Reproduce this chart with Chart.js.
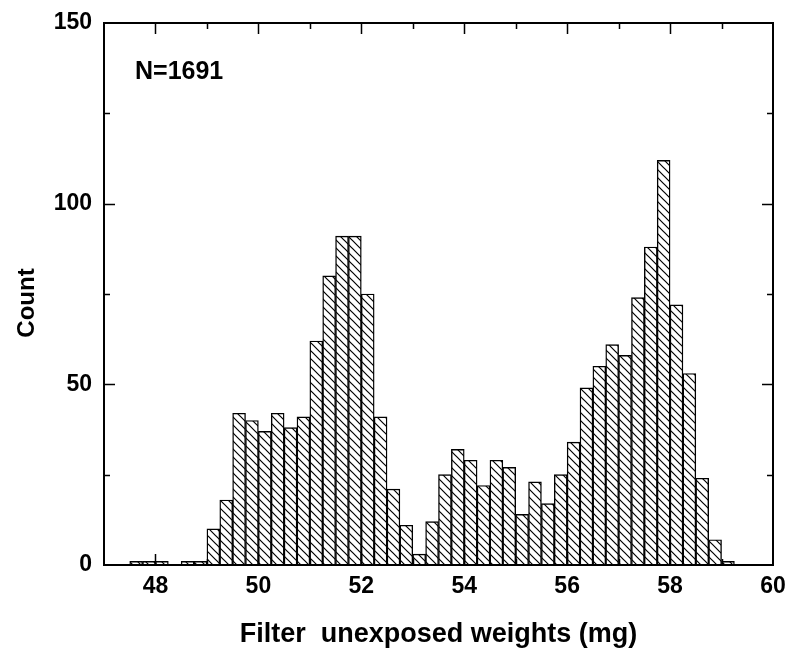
<!DOCTYPE html>
<html>
<head>
<meta charset="utf-8">
<script src="https://cdn.jsdelivr.net/npm/chart.js@4.4.0/dist/chart.umd.min.js"></script>
<style>
  html, body { margin: 0; padding: 0; background: #fff; }
  #wrap { width: 790px; height: 653px; }
</style>
</head>
<body>
<div id="wrap"><canvas id="histChart" width="790" height="653"></canvas></div>
<script>
// bin left edges (mg), bin width 0.25
const binStarts = [47.5, 47.75, 48.0, 48.5, 48.75,
  49.0, 49.25, 49.5, 49.75, 50.0, 50.25, 50.5, 50.75,
  51.0, 51.25, 51.5, 51.75, 52.0, 52.25, 52.5, 52.75,
  53.0, 53.25, 53.5, 53.75, 54.0, 54.25, 54.5, 54.75,
  55.0, 55.25, 55.5, 55.75, 56.0, 56.25, 56.5, 56.75,
  57.0, 57.25, 57.5, 57.75, 58.0, 58.25, 58.5, 58.75, 59.0];
const counts = [1, 1, 1, 1, 1,
  10, 18, 42, 40, 37, 42, 38, 41,
  62, 80, 91, 91, 75, 41, 21, 11,
  3, 12, 25, 32, 29, 22, 29, 27,
  14, 23, 17, 25, 34, 49, 55, 61,
  58, 74, 88, 112, 72, 53, 24, 7, 1];
const binWidth = 0.25;
const xTicks = [48, 50, 52, 54, 56, 58, 60];
const yTicks = [0, 50, 100, 150];
const xTitle = 'Filter  unexposed weights (mg)';
const yTitle = 'Count';
const noteText = 'N=1691';

const FONT = '"Liberation Sans", Arial, sans-serif';

function makeHatch() {
  const s = 8;
  const c = document.createElement('canvas');
  c.width = s; c.height = s;
  const g = c.getContext('2d');
  g.fillStyle = '#fff';
  g.fillRect(0, 0, s, s);
  g.strokeStyle = '#000';
  g.lineWidth = 1.2;
  g.beginPath();
  g.moveTo(0, 0); g.lineTo(s, s);
  g.moveTo(-1, s - 1); g.lineTo(1, s + 1);
  g.moveTo(s - 1, -1); g.lineTo(s + 1, 1);
  g.stroke();
  return g.createPattern(c, 'repeat');
}

const frame = {
  id: 'frame',
  afterDraw(chart) {
    const ctx = chart.ctx;
    const a = chart.chartArea;
    const xs = chart.scales.x, ys = chart.scales.y;
    ctx.save();
    ctx.strokeStyle = '#000';
    ctx.lineWidth = 2;
    ctx.strokeRect(a.left, a.top, a.right - a.left, a.bottom - a.top);
    ctx.lineWidth = 1.5;
    ctx.beginPath();
    for (let v = 48; v <= 59; v++) {
      const len = v % 2 === 0 ? 11 : 6;
      const px = Math.round(xs.getPixelForValue(v)) + 0.5;
      ctx.moveTo(px, a.bottom); ctx.lineTo(px, a.bottom - len);
      ctx.moveTo(px, a.top); ctx.lineTo(px, a.top + len);
    }
    for (let v = 25; v < 150; v += 25) {
      const len = v % 50 === 0 ? 11 : 6;
      const py = Math.round(ys.getPixelForValue(v)) + 0.5;
      ctx.moveTo(a.left, py); ctx.lineTo(a.left + len, py);
      ctx.moveTo(a.right, py); ctx.lineTo(a.right - len, py);
    }
    ctx.stroke();

    ctx.fillStyle = '#000';
    ctx.font = 'bold 25px ' + FONT;
    ctx.textAlign = 'left';
    ctx.textBaseline = 'middle';
    ctx.fillText(noteText, a.left + 31, 72);

    ctx.translate(27, 303);
    ctx.rotate(-Math.PI / 2);
    ctx.textAlign = 'center';
    ctx.font = 'bold 24px ' + FONT;
    ctx.fillText(yTitle, 0, 0);
    ctx.restore();
  }
};

new Chart(document.getElementById('histChart'), {
  type: 'bar',
  data: {
    datasets: [{
      data: binStarts.map((b, i) => ({ x: b + binWidth / 2, y: counts[i] })),
      backgroundColor: makeHatch(),
      borderColor: '#000',
      borderWidth: 1.4,
      barPercentage: 1,
      categoryPercentage: 1
    }]
  },
  options: {
    responsive: false,
    animation: false,
    events: [],
    layout: { padding: { top: 23, right: 17, left: 0, bottom: 0 } },
    plugins: { legend: { display: false }, tooltip: { enabled: false } },
    scales: {
      x: {
        type: 'linear',
        offset: false,
        min: 47, max: 60,
        afterBuildTicks: s => { s.ticks = xTicks.map(v => ({ value: v })); },
        afterFit: s => { s.height = 88; s.paddingLeft = 0; s.paddingRight = 0; },
        grid: { display: false, drawTicks: false, offset: false },
        border: { display: false },
        ticks: { color: '#000', padding: 8, maxRotation: 0, font: { family: FONT, size: 23, weight: 'bold' } },
        title: { display: true, text: xTitle, color: '#000', padding: { top: 0, bottom: 2 },
          font: { family: FONT, size: 27, weight: 'bold' } }
      },
      y: {
        min: 0, max: 150,
        afterBuildTicks: s => { s.ticks = yTicks.map(v => ({ value: v })); },
        afterFit: s => { s.width = 104; s.paddingTop = 0; s.paddingBottom = 0; },
        grid: { display: false, drawTicks: false },
        border: { display: false },
        ticks: { color: '#000', padding: 12, font: { family: FONT, size: 23, weight: 'bold' } }
      }
    }
  },
  plugins: [frame]
});
</script>
</body>
</html>
